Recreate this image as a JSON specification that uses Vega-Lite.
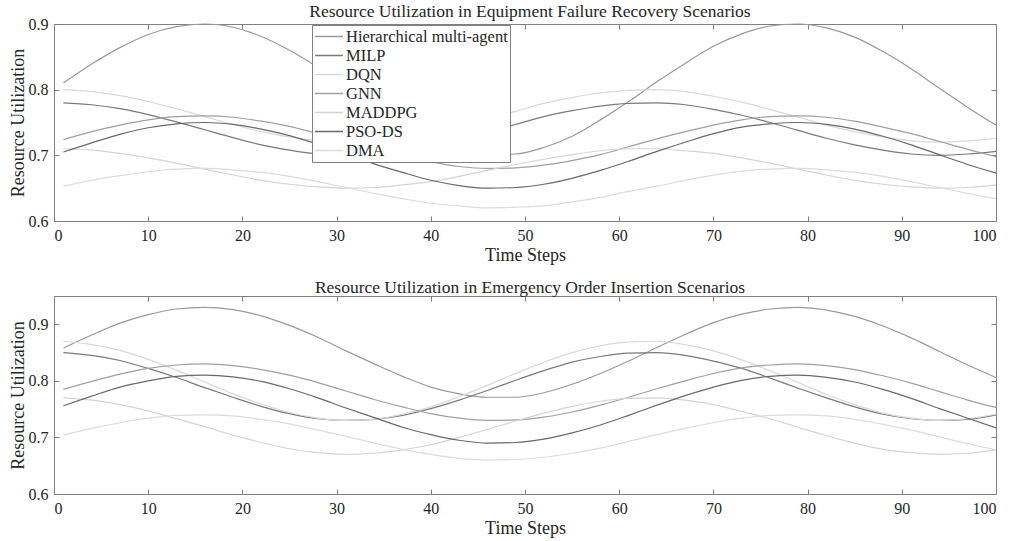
{
"$schema": "https://vega.github.io/schema/vega-lite/v6.json",
"background": "white",
"padding": {"left": 9, "top": 2, "right": 10, "bottom": 2},
"config": {
  "font": "Liberation Serif",
  "view": {"stroke": null},
  "axis": {"labelFont": "Liberation Serif", "labelFontSize": 16, "labelColor": "#262626", "titleFont": "Liberation Serif", "titleFontSize": 18, "titleFontWeight": "normal", "titleColor": "#262626", "domainColor": "#808080", "tickColor": "#808080", "grid": false, "tickSize": -5, "labelPadding": 11},
  "axisX": {"titlePadding": 3},
  "axisY": {"titlePadding": 1},
  "title": {"font": "Liberation Serif", "fontSize": 17.5, "fontWeight": "normal", "color": "#262626"}
},
"datasets": {
"failure": [
{"method":"Hierarchical multi-agent","step":1,"util":0.810},{"method":"Hierarchical multi-agent","step":4,"util":0.839},{"method":"Hierarchical multi-agent","step":7,"util":0.864},{"method":"Hierarchical multi-agent","step":10,"util":0.884},{"method":"Hierarchical multi-agent","step":13,"util":0.896},{"method":"Hierarchical multi-agent","step":16,"util":0.900},{"method":"Hierarchical multi-agent","step":19,"util":0.895},{"method":"Hierarchical multi-agent","step":22,"util":0.881},{"method":"Hierarchical multi-agent","step":25,"util":0.860},{"method":"Hierarchical multi-agent","step":28,"util":0.834},{"method":"Hierarchical multi-agent","step":31,"util":0.804},{"method":"Hierarchical multi-agent","step":34,"util":0.774},{"method":"Hierarchical multi-agent","step":37,"util":0.747},{"method":"Hierarchical multi-agent","step":40,"util":0.724},{"method":"Hierarchical multi-agent","step":43,"util":0.708},{"method":"Hierarchical multi-agent","step":46,"util":0.701},{"method":"Hierarchical multi-agent","step":49,"util":0.702},{"method":"Hierarchical multi-agent","step":52,"util":0.712},{"method":"Hierarchical multi-agent","step":55,"util":0.729},{"method":"Hierarchical multi-agent","step":58,"util":0.754},{"method":"Hierarchical multi-agent","step":61,"util":0.782},{"method":"Hierarchical multi-agent","step":64,"util":0.812},{"method":"Hierarchical multi-agent","step":67,"util":0.840},{"method":"Hierarchical multi-agent","step":70,"util":0.866},{"method":"Hierarchical multi-agent","step":73,"util":0.885},{"method":"Hierarchical multi-agent","step":76,"util":0.897},{"method":"Hierarchical multi-agent","step":79,"util":0.900},{"method":"Hierarchical multi-agent","step":82,"util":0.894},{"method":"Hierarchical multi-agent","step":85,"util":0.880},{"method":"Hierarchical multi-agent","step":88,"util":0.858},{"method":"Hierarchical multi-agent","step":91,"util":0.832},{"method":"Hierarchical multi-agent","step":94,"util":0.802},{"method":"Hierarchical multi-agent","step":97,"util":0.773},{"method":"Hierarchical multi-agent","step":100,"util":0.746},
{"method":"MILP","step":1,"util":0.780},{"method":"MILP","step":4,"util":0.777},{"method":"MILP","step":7,"util":0.771},{"method":"MILP","step":10,"util":0.762},{"method":"MILP","step":13,"util":0.751},{"method":"MILP","step":16,"util":0.739},{"method":"MILP","step":19,"util":0.727},{"method":"MILP","step":22,"util":0.716},{"method":"MILP","step":25,"util":0.708},{"method":"MILP","step":28,"util":0.702},{"method":"MILP","step":31,"util":0.700},{"method":"MILP","step":34,"util":0.701},{"method":"MILP","step":37,"util":0.706},{"method":"MILP","step":40,"util":0.714},{"method":"MILP","step":43,"util":0.724},{"method":"MILP","step":46,"util":0.736},{"method":"MILP","step":49,"util":0.747},{"method":"MILP","step":52,"util":0.759},{"method":"MILP","step":55,"util":0.768},{"method":"MILP","step":58,"util":0.775},{"method":"MILP","step":61,"util":0.779},{"method":"MILP","step":64,"util":0.780},{"method":"MILP","step":67,"util":0.777},{"method":"MILP","step":70,"util":0.770},{"method":"MILP","step":73,"util":0.761},{"method":"MILP","step":76,"util":0.750},{"method":"MILP","step":79,"util":0.738},{"method":"MILP","step":82,"util":0.726},{"method":"MILP","step":85,"util":0.716},{"method":"MILP","step":88,"util":0.708},{"method":"MILP","step":91,"util":0.702},{"method":"MILP","step":94,"util":0.700},{"method":"MILP","step":97,"util":0.702},{"method":"MILP","step":100,"util":0.706},
{"method":"DQN","step":1,"util":0.800},{"method":"DQN","step":4,"util":0.797},{"method":"DQN","step":7,"util":0.791},{"method":"DQN","step":10,"util":0.782},{"method":"DQN","step":13,"util":0.771},{"method":"DQN","step":16,"util":0.759},{"method":"DQN","step":19,"util":0.747},{"method":"DQN","step":22,"util":0.736},{"method":"DQN","step":25,"util":0.728},{"method":"DQN","step":28,"util":0.722},{"method":"DQN","step":31,"util":0.720},{"method":"DQN","step":34,"util":0.721},{"method":"DQN","step":37,"util":0.726},{"method":"DQN","step":40,"util":0.734},{"method":"DQN","step":43,"util":0.744},{"method":"DQN","step":46,"util":0.756},{"method":"DQN","step":49,"util":0.767},{"method":"DQN","step":52,"util":0.779},{"method":"DQN","step":55,"util":0.788},{"method":"DQN","step":58,"util":0.795},{"method":"DQN","step":61,"util":0.799},{"method":"DQN","step":64,"util":0.800},{"method":"DQN","step":67,"util":0.797},{"method":"DQN","step":70,"util":0.790},{"method":"DQN","step":73,"util":0.781},{"method":"DQN","step":76,"util":0.770},{"method":"DQN","step":79,"util":0.758},{"method":"DQN","step":82,"util":0.746},{"method":"DQN","step":85,"util":0.736},{"method":"DQN","step":88,"util":0.728},{"method":"DQN","step":91,"util":0.722},{"method":"DQN","step":94,"util":0.720},{"method":"DQN","step":97,"util":0.722},{"method":"DQN","step":100,"util":0.726},
{"method":"GNN","step":1,"util":0.724},{"method":"GNN","step":4,"util":0.736},{"method":"GNN","step":7,"util":0.746},{"method":"GNN","step":10,"util":0.754},{"method":"GNN","step":13,"util":0.759},{"method":"GNN","step":16,"util":0.760},{"method":"GNN","step":19,"util":0.758},{"method":"GNN","step":22,"util":0.752},{"method":"GNN","step":25,"util":0.744},{"method":"GNN","step":28,"util":0.733},{"method":"GNN","step":31,"util":0.722},{"method":"GNN","step":34,"util":0.710},{"method":"GNN","step":37,"util":0.699},{"method":"GNN","step":40,"util":0.690},{"method":"GNN","step":43,"util":0.683},{"method":"GNN","step":46,"util":0.680},{"method":"GNN","step":49,"util":0.681},{"method":"GNN","step":52,"util":0.685},{"method":"GNN","step":55,"util":0.692},{"method":"GNN","step":58,"util":0.701},{"method":"GNN","step":61,"util":0.713},{"method":"GNN","step":64,"util":0.725},{"method":"GNN","step":67,"util":0.736},{"method":"GNN","step":70,"util":0.746},{"method":"GNN","step":73,"util":0.754},{"method":"GNN","step":76,"util":0.759},{"method":"GNN","step":79,"util":0.760},{"method":"GNN","step":82,"util":0.758},{"method":"GNN","step":85,"util":0.752},{"method":"GNN","step":88,"util":0.743},{"method":"GNN","step":91,"util":0.733},{"method":"GNN","step":94,"util":0.721},{"method":"GNN","step":97,"util":0.709},{"method":"GNN","step":100,"util":0.698},
{"method":"MADDPG","step":1,"util":0.710},{"method":"MADDPG","step":4,"util":0.708},{"method":"MADDPG","step":7,"util":0.703},{"method":"MADDPG","step":10,"util":0.696},{"method":"MADDPG","step":13,"util":0.688},{"method":"MADDPG","step":16,"util":0.679},{"method":"MADDPG","step":19,"util":0.670},{"method":"MADDPG","step":22,"util":0.662},{"method":"MADDPG","step":25,"util":0.656},{"method":"MADDPG","step":28,"util":0.652},{"method":"MADDPG","step":31,"util":0.650},{"method":"MADDPG","step":34,"util":0.651},{"method":"MADDPG","step":37,"util":0.655},{"method":"MADDPG","step":40,"util":0.660},{"method":"MADDPG","step":43,"util":0.668},{"method":"MADDPG","step":46,"util":0.677},{"method":"MADDPG","step":49,"util":0.686},{"method":"MADDPG","step":52,"util":0.694},{"method":"MADDPG","step":55,"util":0.701},{"method":"MADDPG","step":58,"util":0.707},{"method":"MADDPG","step":61,"util":0.710},{"method":"MADDPG","step":64,"util":0.710},{"method":"MADDPG","step":67,"util":0.707},{"method":"MADDPG","step":70,"util":0.703},{"method":"MADDPG","step":73,"util":0.696},{"method":"MADDPG","step":76,"util":0.688},{"method":"MADDPG","step":79,"util":0.679},{"method":"MADDPG","step":82,"util":0.670},{"method":"MADDPG","step":85,"util":0.662},{"method":"MADDPG","step":88,"util":0.656},{"method":"MADDPG","step":91,"util":0.652},{"method":"MADDPG","step":94,"util":0.650},{"method":"MADDPG","step":97,"util":0.651},{"method":"MADDPG","step":100,"util":0.655},
{"method":"PSO-DS","step":1,"util":0.705},{"method":"PSO-DS","step":4,"util":0.719},{"method":"PSO-DS","step":7,"util":0.732},{"method":"PSO-DS","step":10,"util":0.742},{"method":"PSO-DS","step":13,"util":0.748},{"method":"PSO-DS","step":16,"util":0.750},{"method":"PSO-DS","step":19,"util":0.747},{"method":"PSO-DS","step":22,"util":0.740},{"method":"PSO-DS","step":25,"util":0.730},{"method":"PSO-DS","step":28,"util":0.717},{"method":"PSO-DS","step":31,"util":0.702},{"method":"PSO-DS","step":34,"util":0.687},{"method":"PSO-DS","step":37,"util":0.674},{"method":"PSO-DS","step":40,"util":0.662},{"method":"PSO-DS","step":43,"util":0.654},{"method":"PSO-DS","step":46,"util":0.650},{"method":"PSO-DS","step":49,"util":0.651},{"method":"PSO-DS","step":52,"util":0.656},{"method":"PSO-DS","step":55,"util":0.665},{"method":"PSO-DS","step":58,"util":0.677},{"method":"PSO-DS","step":61,"util":0.691},{"method":"PSO-DS","step":64,"util":0.706},{"method":"PSO-DS","step":67,"util":0.720},{"method":"PSO-DS","step":70,"util":0.733},{"method":"PSO-DS","step":73,"util":0.743},{"method":"PSO-DS","step":76,"util":0.748},{"method":"PSO-DS","step":79,"util":0.750},{"method":"PSO-DS","step":82,"util":0.747},{"method":"PSO-DS","step":85,"util":0.740},{"method":"PSO-DS","step":88,"util":0.729},{"method":"PSO-DS","step":91,"util":0.716},{"method":"PSO-DS","step":94,"util":0.701},{"method":"PSO-DS","step":97,"util":0.686},{"method":"PSO-DS","step":100,"util":0.673},
{"method":"DMA","step":1,"util":0.653},{"method":"DMA","step":4,"util":0.662},{"method":"DMA","step":7,"util":0.669},{"method":"DMA","step":10,"util":0.675},{"method":"DMA","step":13,"util":0.679},{"method":"DMA","step":16,"util":0.680},{"method":"DMA","step":19,"util":0.678},{"method":"DMA","step":22,"util":0.674},{"method":"DMA","step":25,"util":0.668},{"method":"DMA","step":28,"util":0.660},{"method":"DMA","step":31,"util":0.651},{"method":"DMA","step":34,"util":0.642},{"method":"DMA","step":37,"util":0.634},{"method":"DMA","step":40,"util":0.627},{"method":"DMA","step":43,"util":0.623},{"method":"DMA","step":46,"util":0.620},{"method":"DMA","step":49,"util":0.621},{"method":"DMA","step":52,"util":0.623},{"method":"DMA","step":55,"util":0.629},{"method":"DMA","step":58,"util":0.636},{"method":"DMA","step":61,"util":0.645},{"method":"DMA","step":64,"util":0.653},{"method":"DMA","step":67,"util":0.662},{"method":"DMA","step":70,"util":0.670},{"method":"DMA","step":73,"util":0.676},{"method":"DMA","step":76,"util":0.679},{"method":"DMA","step":79,"util":0.680},{"method":"DMA","step":82,"util":0.678},{"method":"DMA","step":85,"util":0.674},{"method":"DMA","step":88,"util":0.668},{"method":"DMA","step":91,"util":0.660},{"method":"DMA","step":94,"util":0.651},{"method":"DMA","step":97,"util":0.642},{"method":"DMA","step":100,"util":0.634}
],
"emergency": [
{"method":"Hierarchical multi-agent","step":1,"util":0.858},{"method":"Hierarchical multi-agent","step":4,"util":0.881},{"method":"Hierarchical multi-agent","step":7,"util":0.902},{"method":"Hierarchical multi-agent","step":10,"util":0.917},{"method":"Hierarchical multi-agent","step":13,"util":0.927},{"method":"Hierarchical multi-agent","step":16,"util":0.930},{"method":"Hierarchical multi-agent","step":19,"util":0.926},{"method":"Hierarchical multi-agent","step":22,"util":0.915},{"method":"Hierarchical multi-agent","step":25,"util":0.898},{"method":"Hierarchical multi-agent","step":28,"util":0.877},{"method":"Hierarchical multi-agent","step":31,"util":0.853},{"method":"Hierarchical multi-agent","step":34,"util":0.830},{"method":"Hierarchical multi-agent","step":37,"util":0.808},{"method":"Hierarchical multi-agent","step":40,"util":0.789},{"method":"Hierarchical multi-agent","step":43,"util":0.777},{"method":"Hierarchical multi-agent","step":46,"util":0.771},{"method":"Hierarchical multi-agent","step":49,"util":0.771},{"method":"Hierarchical multi-agent","step":52,"util":0.779},{"method":"Hierarchical multi-agent","step":55,"util":0.794},{"method":"Hierarchical multi-agent","step":58,"util":0.813},{"method":"Hierarchical multi-agent","step":61,"util":0.835},{"method":"Hierarchical multi-agent","step":64,"util":0.859},{"method":"Hierarchical multi-agent","step":67,"util":0.882},{"method":"Hierarchical multi-agent","step":70,"util":0.903},{"method":"Hierarchical multi-agent","step":73,"util":0.918},{"method":"Hierarchical multi-agent","step":76,"util":0.927},{"method":"Hierarchical multi-agent","step":79,"util":0.930},{"method":"Hierarchical multi-agent","step":82,"util":0.925},{"method":"Hierarchical multi-agent","step":85,"util":0.914},{"method":"Hierarchical multi-agent","step":88,"util":0.897},{"method":"Hierarchical multi-agent","step":91,"util":0.876},{"method":"Hierarchical multi-agent","step":94,"util":0.852},{"method":"Hierarchical multi-agent","step":97,"util":0.828},{"method":"Hierarchical multi-agent","step":100,"util":0.806},
{"method":"MILP","step":1,"util":0.850},{"method":"MILP","step":4,"util":0.845},{"method":"MILP","step":7,"util":0.836},{"method":"MILP","step":10,"util":0.822},{"method":"MILP","step":13,"util":0.806},{"method":"MILP","step":16,"util":0.788},{"method":"MILP","step":19,"util":0.771},{"method":"MILP","step":22,"util":0.755},{"method":"MILP","step":25,"util":0.742},{"method":"MILP","step":28,"util":0.733},{"method":"MILP","step":31,"util":0.730},{"method":"MILP","step":34,"util":0.732},{"method":"MILP","step":37,"util":0.739},{"method":"MILP","step":40,"util":0.751},{"method":"MILP","step":43,"util":0.766},{"method":"MILP","step":46,"util":0.783},{"method":"MILP","step":49,"util":0.801},{"method":"MILP","step":52,"util":0.818},{"method":"MILP","step":55,"util":0.833},{"method":"MILP","step":58,"util":0.843},{"method":"MILP","step":61,"util":0.849},{"method":"MILP","step":64,"util":0.850},{"method":"MILP","step":67,"util":0.845},{"method":"MILP","step":70,"util":0.835},{"method":"MILP","step":73,"util":0.822},{"method":"MILP","step":76,"util":0.805},{"method":"MILP","step":79,"util":0.787},{"method":"MILP","step":82,"util":0.770},{"method":"MILP","step":85,"util":0.754},{"method":"MILP","step":88,"util":0.741},{"method":"MILP","step":91,"util":0.733},{"method":"MILP","step":94,"util":0.730},{"method":"MILP","step":97,"util":0.732},{"method":"MILP","step":100,"util":0.740},
{"method":"DQN","step":1,"util":0.870},{"method":"DQN","step":4,"util":0.864},{"method":"DQN","step":7,"util":0.854},{"method":"DQN","step":10,"util":0.838},{"method":"DQN","step":13,"util":0.819},{"method":"DQN","step":16,"util":0.798},{"method":"DQN","step":19,"util":0.777},{"method":"DQN","step":22,"util":0.759},{"method":"DQN","step":25,"util":0.744},{"method":"DQN","step":28,"util":0.734},{"method":"DQN","step":31,"util":0.730},{"method":"DQN","step":34,"util":0.732},{"method":"DQN","step":37,"util":0.741},{"method":"DQN","step":40,"util":0.754},{"method":"DQN","step":43,"util":0.772},{"method":"DQN","step":46,"util":0.792},{"method":"DQN","step":49,"util":0.813},{"method":"DQN","step":52,"util":0.833},{"method":"DQN","step":55,"util":0.850},{"method":"DQN","step":58,"util":0.862},{"method":"DQN","step":61,"util":0.869},{"method":"DQN","step":64,"util":0.870},{"method":"DQN","step":67,"util":0.864},{"method":"DQN","step":70,"util":0.853},{"method":"DQN","step":73,"util":0.837},{"method":"DQN","step":76,"util":0.818},{"method":"DQN","step":79,"util":0.797},{"method":"DQN","step":82,"util":0.776},{"method":"DQN","step":85,"util":0.758},{"method":"DQN","step":88,"util":0.743},{"method":"DQN","step":91,"util":0.734},{"method":"DQN","step":94,"util":0.730},{"method":"DQN","step":97,"util":0.733},{"method":"DQN","step":100,"util":0.741},
{"method":"GNN","step":1,"util":0.785},{"method":"GNN","step":4,"util":0.799},{"method":"GNN","step":7,"util":0.812},{"method":"GNN","step":10,"util":0.822},{"method":"GNN","step":13,"util":0.828},{"method":"GNN","step":16,"util":0.830},{"method":"GNN","step":19,"util":0.827},{"method":"GNN","step":22,"util":0.820},{"method":"GNN","step":25,"util":0.810},{"method":"GNN","step":28,"util":0.797},{"method":"GNN","step":31,"util":0.782},{"method":"GNN","step":34,"util":0.767},{"method":"GNN","step":37,"util":0.754},{"method":"GNN","step":40,"util":0.742},{"method":"GNN","step":43,"util":0.734},{"method":"GNN","step":46,"util":0.730},{"method":"GNN","step":49,"util":0.731},{"method":"GNN","step":52,"util":0.736},{"method":"GNN","step":55,"util":0.745},{"method":"GNN","step":58,"util":0.757},{"method":"GNN","step":61,"util":0.771},{"method":"GNN","step":64,"util":0.786},{"method":"GNN","step":67,"util":0.800},{"method":"GNN","step":70,"util":0.813},{"method":"GNN","step":73,"util":0.823},{"method":"GNN","step":76,"util":0.828},{"method":"GNN","step":79,"util":0.830},{"method":"GNN","step":82,"util":0.827},{"method":"GNN","step":85,"util":0.820},{"method":"GNN","step":88,"util":0.809},{"method":"GNN","step":91,"util":0.796},{"method":"GNN","step":94,"util":0.781},{"method":"GNN","step":97,"util":0.766},{"method":"GNN","step":100,"util":0.753},
{"method":"MADDPG","step":1,"util":0.770},{"method":"MADDPG","step":4,"util":0.766},{"method":"MADDPG","step":7,"util":0.758},{"method":"MADDPG","step":10,"util":0.747},{"method":"MADDPG","step":13,"util":0.733},{"method":"MADDPG","step":16,"util":0.719},{"method":"MADDPG","step":19,"util":0.704},{"method":"MADDPG","step":22,"util":0.691},{"method":"MADDPG","step":25,"util":0.680},{"method":"MADDPG","step":28,"util":0.673},{"method":"MADDPG","step":31,"util":0.670},{"method":"MADDPG","step":34,"util":0.672},{"method":"MADDPG","step":37,"util":0.678},{"method":"MADDPG","step":40,"util":0.687},{"method":"MADDPG","step":43,"util":0.700},{"method":"MADDPG","step":46,"util":0.714},{"method":"MADDPG","step":49,"util":0.729},{"method":"MADDPG","step":52,"util":0.743},{"method":"MADDPG","step":55,"util":0.755},{"method":"MADDPG","step":58,"util":0.764},{"method":"MADDPG","step":61,"util":0.769},{"method":"MADDPG","step":64,"util":0.770},{"method":"MADDPG","step":67,"util":0.766},{"method":"MADDPG","step":70,"util":0.758},{"method":"MADDPG","step":73,"util":0.746},{"method":"MADDPG","step":76,"util":0.733},{"method":"MADDPG","step":79,"util":0.718},{"method":"MADDPG","step":82,"util":0.703},{"method":"MADDPG","step":85,"util":0.690},{"method":"MADDPG","step":88,"util":0.679},{"method":"MADDPG","step":91,"util":0.673},{"method":"MADDPG","step":94,"util":0.670},{"method":"MADDPG","step":97,"util":0.672},{"method":"MADDPG","step":100,"util":0.678},
{"method":"PSO-DS","step":1,"util":0.756},{"method":"PSO-DS","step":4,"util":0.773},{"method":"PSO-DS","step":7,"util":0.789},{"method":"PSO-DS","step":10,"util":0.800},{"method":"PSO-DS","step":13,"util":0.808},{"method":"PSO-DS","step":16,"util":0.810},{"method":"PSO-DS","step":19,"util":0.807},{"method":"PSO-DS","step":22,"util":0.799},{"method":"PSO-DS","step":25,"util":0.786},{"method":"PSO-DS","step":28,"util":0.770},{"method":"PSO-DS","step":31,"util":0.752},{"method":"PSO-DS","step":34,"util":0.735},{"method":"PSO-DS","step":37,"util":0.718},{"method":"PSO-DS","step":40,"util":0.705},{"method":"PSO-DS","step":43,"util":0.695},{"method":"PSO-DS","step":46,"util":0.690},{"method":"PSO-DS","step":49,"util":0.691},{"method":"PSO-DS","step":52,"util":0.697},{"method":"PSO-DS","step":55,"util":0.708},{"method":"PSO-DS","step":58,"util":0.722},{"method":"PSO-DS","step":61,"util":0.739},{"method":"PSO-DS","step":64,"util":0.757},{"method":"PSO-DS","step":67,"util":0.774},{"method":"PSO-DS","step":70,"util":0.789},{"method":"PSO-DS","step":73,"util":0.801},{"method":"PSO-DS","step":76,"util":0.808},{"method":"PSO-DS","step":79,"util":0.810},{"method":"PSO-DS","step":82,"util":0.806},{"method":"PSO-DS","step":85,"util":0.798},{"method":"PSO-DS","step":88,"util":0.785},{"method":"PSO-DS","step":91,"util":0.769},{"method":"PSO-DS","step":94,"util":0.751},{"method":"PSO-DS","step":97,"util":0.734},{"method":"PSO-DS","step":100,"util":0.717},
{"method":"DMA","step":1,"util":0.704},{"method":"DMA","step":4,"util":0.716},{"method":"DMA","step":7,"util":0.726},{"method":"DMA","step":10,"util":0.734},{"method":"DMA","step":13,"util":0.739},{"method":"DMA","step":16,"util":0.740},{"method":"DMA","step":19,"util":0.738},{"method":"DMA","step":22,"util":0.732},{"method":"DMA","step":25,"util":0.724},{"method":"DMA","step":28,"util":0.713},{"method":"DMA","step":31,"util":0.702},{"method":"DMA","step":34,"util":0.690},{"method":"DMA","step":37,"util":0.679},{"method":"DMA","step":40,"util":0.670},{"method":"DMA","step":43,"util":0.663},{"method":"DMA","step":46,"util":0.660},{"method":"DMA","step":49,"util":0.661},{"method":"DMA","step":52,"util":0.665},{"method":"DMA","step":55,"util":0.672},{"method":"DMA","step":58,"util":0.681},{"method":"DMA","step":61,"util":0.693},{"method":"DMA","step":64,"util":0.705},{"method":"DMA","step":67,"util":0.716},{"method":"DMA","step":70,"util":0.726},{"method":"DMA","step":73,"util":0.734},{"method":"DMA","step":76,"util":0.739},{"method":"DMA","step":79,"util":0.740},{"method":"DMA","step":82,"util":0.738},{"method":"DMA","step":85,"util":0.732},{"method":"DMA","step":88,"util":0.723},{"method":"DMA","step":91,"util":0.713},{"method":"DMA","step":94,"util":0.701},{"method":"DMA","step":97,"util":0.689},{"method":"DMA","step":100,"util":0.678}
]
},
"spacing": 15,
"vconcat": [
{
  "width": 942, "height": 197,
  "title": {"text": "Resource Utilization in Equipment Failure Recovery Scenarios", "offset": -4, "dx": 5},
  "data": {"name": "failure"},
  "layer": [
    {
      "mark": {"type": "line", "interpolate": "monotone", "strokeWidth": 1.2},
      "encoding": {
        "x": {"field": "step", "type": "quantitative", "scale": {"domain": [0, 100], "nice": false}, "axis": {"orient": "bottom", "values": [0,10,20,30,40,50,60,70,80,90,100], "format": "d", "title": "Time Steps"}},
        "y": {"field": "util", "type": "quantitative", "scale": {"domain": [0.6, 0.9], "nice": false, "zero": false}, "axis": {"orient": "left", "values": [0.6,0.7,0.8,0.9], "format": ".1f", "title": "Resource Utilization"}},
        "color": {"field": "method", "type": "nominal",
          "sort": ["Hierarchical multi-agent","MILP","DQN","GNN","MADDPG","PSO-DS","DMA"],
          "scale": {"domain": ["Hierarchical multi-agent","MILP","DQN","GNN","MADDPG","PSO-DS","DMA"], "range": ["#9a9a9a","#7a7a7a","#d8d8d8","#a0a0a0","#d4d4d4","#6a6a6a","#dcdcdc"]},
          "legend": {"orient": "none", "legendX": 258, "legendY": 1, "title": null, "symbolType": "stroke", "symbolSize": 784, "symbolStrokeWidth": 1.5, "labelFont": "Liberation Serif", "labelFontSize": 16.5, "labelColor": "#262626", "labelLimit": 400, "labelOffset": 2, "strokeColor": "#808080", "fillColor": "white", "padding": 2, "rowPadding": 0, "clipHeight": 19}
        }
      }
    },
    {
      "mark": {"type": "line", "opacity": 0},
      "encoding": {
        "x": {"field": "step", "type": "quantitative", "axis": {"orient": "top", "values": [0,10,20,30,40,50,60,70,80,90,100], "labels": false, "title": null}},
        "y": {"field": "util", "type": "quantitative", "axis": {"orient": "right", "values": [0.6,0.7,0.8,0.9], "labels": false, "title": null}},
        "detail": {"field": "method"}
      }
    }
  ],
  "resolve": {"axis": {"x": "independent", "y": "independent"}}
},
{
  "width": 942, "height": 198,
  "title": {"text": "Resource Utilization in Emergency Order Insertion Scenarios", "offset": -1, "dx": 5},
  "data": {"name": "emergency"},
  "layer": [
    {
      "mark": {"type": "line", "interpolate": "monotone", "strokeWidth": 1.2},
      "encoding": {
        "x": {"field": "step", "type": "quantitative", "scale": {"domain": [0, 100], "nice": false}, "axis": {"orient": "bottom", "values": [0,10,20,30,40,50,60,70,80,90,100], "format": "d", "title": "Time Steps"}},
        "y": {"field": "util", "type": "quantitative", "scale": {"domain": [0.6, 0.95], "nice": false, "zero": false}, "axis": {"orient": "left", "values": [0.6,0.7,0.8,0.9], "format": ".1f", "title": "Resource Utilization"}},
        "color": {"field": "method", "type": "nominal",
          "scale": {"domain": ["Hierarchical multi-agent","MILP","DQN","GNN","MADDPG","PSO-DS","DMA"], "range": ["#9a9a9a","#7a7a7a","#d8d8d8","#a0a0a0","#d4d4d4","#6a6a6a","#dcdcdc"]},
          "legend": null
        }
      }
    },
    {
      "mark": {"type": "line", "opacity": 0},
      "encoding": {
        "x": {"field": "step", "type": "quantitative", "axis": {"orient": "top", "values": [0,10,20,30,40,50,60,70,80,90,100], "labels": false, "title": null}},
        "y": {"field": "util", "type": "quantitative", "axis": {"orient": "right", "values": [0.6,0.7,0.8,0.9], "labels": false, "title": null}},
        "detail": {"field": "method"}
      }
    }
  ],
  "resolve": {"axis": {"x": "independent", "y": "independent"}}
}
],
"resolve": {"scale": {"color": "independent"}, "legend": {"color": "independent"}}
}
